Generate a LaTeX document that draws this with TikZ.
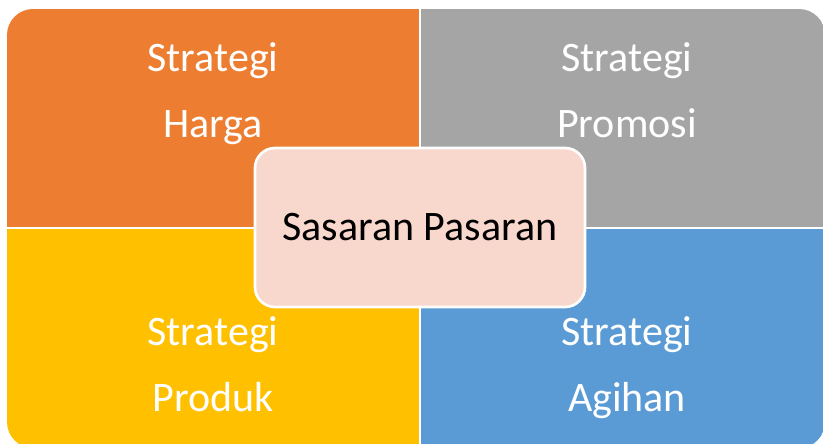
\documentclass[tikz,border=0pt]{standalone}
\usepackage{xcolor}
\usepackage{fontspec}
\setmainfont{Carlito}

\definecolor{hargaorange}{RGB}{237,125,49}
\definecolor{promosigray}{RGB}{165,165,165}
\definecolor{produkyellow}{RGB}{255,192,0}
\definecolor{agihanblue}{RGB}{91,155,213}
\definecolor{sasaranpink}{RGB}{248,215,204}

\tikzset{
  quadtext/.style={text=white, align=center, text depth=0pt, font=\fontsize{31.5}{49.5}\selectfont},
  centerbox/.style={draw=white, line width=2pt, fill=sasaranpink, rounded corners=15pt,
    minimum width=247.5pt, minimum height=119.25pt, font=\fontsize{31.5}{38}\selectfont}
}

\begin{document}
\begin{tikzpicture}[x=0.75pt,y=0.75pt,yscale=-1,xscale=1]
\useasboundingbox (0,0) rectangle (823,443);

\begin{scope}
%Shape: Rounded Rectangle (outer, cut off at right and bottom)
\clip [rounded corners=19.5pt] (7,9) rectangle (825,448);
%Shape: Rectangle
\fill [hargaorange] (0,0) rectangle (420,228);
%Shape: Rectangle
\fill [promosigray] (420,0) rectangle (830,228);
%Shape: Rectangle
\fill [produkyellow] (0,228) rectangle (420,450);
%Shape: Rectangle
\fill [agihanblue] (420,228) rectangle (830,450);
%Straight Lines
\draw [white, line width=2pt] (420,0) -- (420,450);
\draw [white, line width=2pt] (0,228) -- (830,228);
\end{scope}

% Text Node
\node (harga) at (213,90) [quadtext] {Strategi\\Harga};
% Text Node
\node (promosi) at (627,90) [quadtext] {Strategi\\Promosi};
% Text Node
\node (produk) at (213,364) [quadtext] {Strategi\\Produk};
% Text Node
\node (agihan) at (627,364) [quadtext] {Strategi\\Agihan};
% Text Node
\node (sasaran) at (420,227.5) [centerbox] {Sasaran Pasaran};

\end{tikzpicture}
\end{document}
